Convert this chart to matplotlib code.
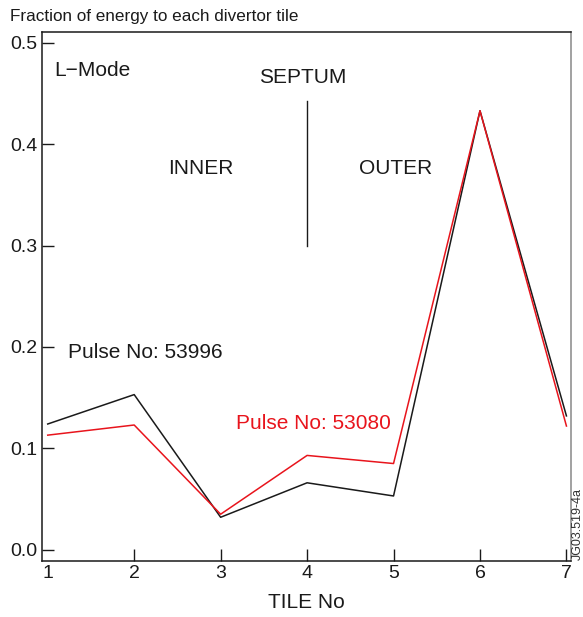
import matplotlib.pyplot as plt

plt.rcParams['font.family'] = ['Liberation Sans', 'DejaVu Sans']

# tile numbers and energy fractions
tiles = [1, 2, 3, 4, 5, 6, 7]
pulse_53996 = [0.124, 0.153, 0.032, 0.066, 0.053, 0.433, 0.132]
pulse_53080 = [0.113, 0.123, 0.035, 0.093, 0.085, 0.433, 0.122]
y_ticks = [0.0, 0.1, 0.2, 0.3, 0.4, 0.5]

fig = plt.figure(figsize=(5.83, 6.17), dpi=100)
ax = fig.add_axes([0.0715, 0.091, 0.9075, 0.857])

ax.plot(tiles, pulse_53996, color='#1a1a1a', lw=1.1)
ax.plot(tiles, pulse_53080, color='#e8141c', lw=1.1)

# septum marker
ax.plot([4, 4], [0.30, 0.443], color='#1a1a1a', lw=1.0)

fs = 15
ax.text(1.08, 0.473, 'L\u2212Mode', fontsize=fs, va='center', color='#1a1a1a')
ax.text(3.95, 0.466, 'SEPTUM', fontsize=fs, va='center', ha='center', color='#1a1a1a')
ax.text(2.77, 0.376, 'INNER', fontsize=fs, va='center', ha='center', color='#1a1a1a')
ax.text(5.02, 0.376, 'OUTER', fontsize=fs, va='center', ha='center', color='#1a1a1a')
ax.text(1.24, 0.195, 'Pulse No: 53996', fontsize=fs, va='center', color='#1a1a1a')
ax.text(3.18, 0.124, 'Pulse No: 53080', fontsize=fs, va='center', color='#e8141c')

ax.set_xlim(0.93, 7.05)
ax.set_ylim(-0.011, 0.5106)
ax.set_xticks(tiles)
ax.set_yticks(y_ticks)
ax.set_yticklabels([f'{v:.1f}' for v in y_ticks])
ax.tick_params(direction='in', length=8.5, width=1.0, labelsize=14,
               colors='#1a1a1a', pad=3)
ax.xaxis.get_major_ticks()[0].tick1line.set_visible(False)

for side in ['left', 'bottom', 'top']:
    ax.spines[side].set_linewidth(1.1)
    ax.spines[side].set_color('#1a1a1a')
ax.spines['right'].set_linewidth(1.1)
ax.spines['right'].set_color('#888888')

ax.set_xlabel('TILE No', fontsize=fs, color='#1a1a1a', labelpad=8)
fig.text(0.017, 0.974, 'Fraction of energy to each divertor tile', fontsize=12.3,
         va='center', color='#1a1a1a')
fig.text(0.991, 0.093, 'JG03.519-4a', fontsize=9, rotation=90, va='bottom',
         ha='center', color='#333333')

fig.savefig('out.png', dpi=100)
